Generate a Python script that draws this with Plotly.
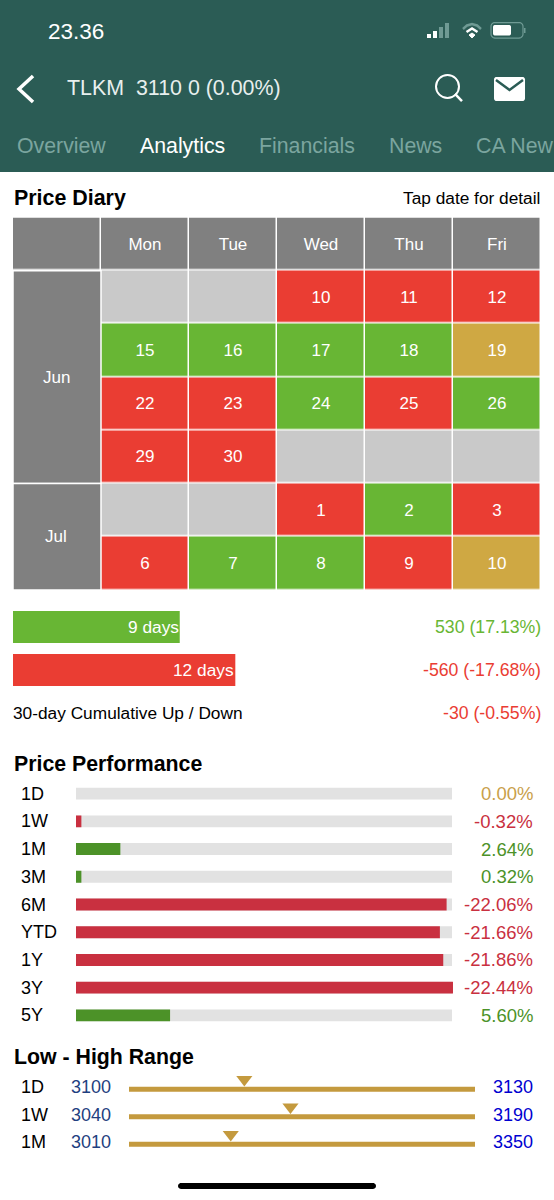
import math
import plotly.graph_objs as go

W = 554
H = 1200
FONT = "Liberation Sans"

# price diary
weekdays = ["Mon", "Tue", "Wed", "Thu", "Fri"]
months = ["Jun", "Jul"]
month_weeks = [4, 2]
days = [
    ["", "", "10", "11", "12"],
    ["15", "16", "17", "18", "19"],
    ["22", "23", "24", "25", "26"],
    ["29", "30", "", "", ""],
    ["", "", "1", "2", "3"],
    ["6", "7", "8", "9", "10"],
]
# 0 header, 1 no data, 2 up, 3 down, 4 flat
status = [
    [1, 1, 3, 3, 3],
    [2, 2, 2, 2, 4],
    [3, 3, 2, 3, 2],
    [3, 3, 1, 1, 1],
    [1, 1, 3, 2, 3],
    [3, 2, 2, 3, 4],
]

updown_days = [9, 12]
updown_text = ["530 (17.13%)", "-560 (-17.68%)", "-30 (-0.55%)"]

# price performance
perf_labels = ["1D", "1W", "1M", "3M", "6M", "YTD", "1Y", "3Y", "5Y"]
perf_values = [0.00, -0.32, 2.64, 0.32, -22.06, -21.66, -21.86, -22.44, 5.60]
perf_track = 22.38

# low - high range
range_labels = ["1D", "1W", "1M"]
range_low = [3100, 3040, 3010]
range_high = [3130, 3190, 3350]
last_price = 3110

BAND = "#2b5c55"
GREY = "#808080"
BLANK = "#c9c9c9"
UP = "#68b634"
DOWN = "#ea3d33"
FLAT = "#cfa843"
P_UP = "#4c9228"
P_DOWN = "#c93040"
P_FLAT = "#c9a04a"
TRACK = "#e2e2e2"
GOLD = "#c49a3e"


def px_x(x):
    return x / W


def px_y(y):
    return 1 - y / H


def dom_x(x0, x1):
    return [x0 / W, x1 / W]


def dom_y(y0, y1):
    return [1 - y1 / H, 1 - y0 / H]


def label(x, y, s, size=18, color="black", anchor="left", bold=False, yref="paper", yshift=0):
    if yref == "paper":
        y = px_y(y)
    if bold:
        s = "<b>" + s + "</b>"
    x = x - 1 if anchor == "left" else x + 1
    return dict(x=px_x(x), y=y, xref="paper", yref=yref, text=s, showarrow=False, yshift=yshift,
                xanchor=anchor, yanchor="middle", borderpad=0, font=dict(size=size, color=color, family=FONT))


def box(x0, y0, x1, y1, fill, line=None, layer="above"):
    return dict(type="rect", xref="paper", yref="paper", x0=px_x(x0), x1=px_x(x1), y0=px_y(y0), y1=px_y(y1),
                fillcolor=fill, line=dict(width=0) if line is None else line, layer=layer)


def path(points, color, width=2, fill=None):
    d = "M " + " L ".join("%.4f,%.4f" % (px_x(a), px_y(b)) for a, b in points)
    if fill:
        d += " Z"
    return dict(type="path", xref="paper", yref="paper", path=d, fillcolor=fill,
                line=dict(color=color, width=width))


def rounded(x0, y0, x1, y1, r, fill=None, color=None, width=0):
    # rounded box as a polygon, arcs do not scale on paper coordinates
    pts = []
    for cx, cy, a0 in [(x1 - r, y0 + r, -90), (x1 - r, y1 - r, 0), (x0 + r, y1 - r, 90), (x0 + r, y0 + r, 180)]:
        for k in range(7):
            a = math.radians(a0 + k * 15)
            pts.append((cx + r * math.cos(a), cy + r * math.sin(a)))
    d = "M " + " L ".join("%.4f,%.4f" % (px_x(a), px_y(b)) for a, b in pts) + " Z"
    return dict(type="path", xref="paper", yref="paper", path=d, fillcolor=fill,
                line=dict(color=color, width=width))


fig = go.Figure()

# calendar
z = [[0] * 6] + [[None] + row for row in status]
text = [[""] + weekdays] + [[""] + row for row in days]
scale = [[0.0, GREY], [0.2, GREY], [0.2, BLANK], [0.4, BLANK], [0.4, UP], [0.6, UP],
         [0.6, DOWN], [0.8, DOWN], [0.8, FLAT], [1.0, FLAT]]
fig.add_trace(go.Heatmap(z=z, x=list(range(6)), y=list(range(7)), text=text, texttemplate="%{text}",
                         textfont=dict(size=17, color="white", family=FONT), colorscale=scale, zmin=0, zmax=5,
                         showscale=False, xgap=1.5, ygap=1.5, hoverinfo="skip", xaxis="x", yaxis="y"))
starts = [0.5 + sum(month_weeks[:i]) for i in range(len(months))]
fig.add_trace(go.Bar(x=[0] * len(months), y=month_weeks, base=starts, width=1, marker_color=GREY,
                     marker_line=dict(color="white", width=1.5), hoverinfo="skip", xaxis="x", yaxis="y"))

# up / down day bars
fig.add_trace(go.Bar(x=updown_days, y=[0, 1], orientation="h", width=0.744, marker_color=[UP, DOWN],
                     marker_line_width=0, hoverinfo="skip", xaxis="x2", yaxis="y2"))

# performance bars
fig.add_trace(go.Bar(x=[perf_track] * len(perf_labels), y=perf_labels, orientation="h", width=0.43,
                     marker_color=TRACK, marker_line_width=0, hoverinfo="skip", xaxis="x3", yaxis="y3"))
perf_colors = [P_UP if v > 0 else P_DOWN if v < 0 else P_FLAT for v in perf_values]
fig.add_trace(go.Bar(x=[abs(v) for v in perf_values], y=perf_labels, orientation="h", width=0.43,
                     marker_color=perf_colors, marker_line_width=0, hoverinfo="skip", xaxis="x3", yaxis="y3"))

# range sliders
fig.add_trace(go.Bar(x=[1] * len(range_labels), y=range_labels, orientation="h", width=0.18,
                     marker_color=GOLD, marker_line_width=0, hoverinfo="skip", xaxis="x4", yaxis="y4"))
pos = [(last_price - lo) / (hi - lo) for lo, hi in zip(range_low, range_high)]
fig.add_trace(go.Scatter(x=pos, y=[i - 0.356 for i in range(len(pos))], mode="markers",
                         marker=dict(symbol="triangle-down", size=14, color=GOLD), hoverinfo="skip",
                         xaxis="x4", yaxis="y5"))

hidden = dict(visible=False, fixedrange=True)
fig.update_layout(
    width=W, height=H, margin=dict(l=0, r=0, t=0, b=0), showlegend=False, barmode="overlay",
    paper_bgcolor="white", plot_bgcolor="white", font=dict(family=FONT),
    xaxis=dict(domain=dom_x(13, 541), range=[-0.5, 5.5], **hidden),
    yaxis=dict(domain=dom_y(217.5, 590), range=[6.5, -0.5], **hidden),
    xaxis2=dict(domain=dom_x(13, 541), range=[0, 28.5], **hidden),
    yaxis2=dict(domain=dom_y(605.5, 691.5), range=[1.5, -0.5], **hidden),
    xaxis3=dict(domain=dom_x(76, 454), range=[0, 22.5], **hidden),
    yaxis3=dict(domain=dom_y(779.8, 1029.2), categoryorder="array", categoryarray=perf_labels,
                autorange="reversed", **hidden),
    xaxis4=dict(domain=dom_x(129, 475), range=[0, 1], **hidden),
    yaxis4=dict(domain=dom_y(1075.5, 1158), categoryorder="array", categoryarray=range_labels,
                autorange="reversed", **hidden),
    yaxis5=dict(domain=dom_y(1075.5, 1158), range=[2.5, -0.5], overlaying="y4", **hidden),
)

annotations = [
    label(48, 31, "23.36", 22.5, "white"),
    label(67, 88, "TLKM&nbsp;&nbsp;3110 0 (0.00%)", 21.4, "#e8efee"),
    label(17, 146, "Overview", 21.3, "#7ba59f"),
    label(140, 146, "Analytics", 21.3, "white"),
    label(259, 146, "Financials", 21.3, "#7ba59f"),
    label(389, 146, "News", 21.3, "#7ba59f"),
    label(476, 146, "CA New", 21.3, "#7ba59f"),
    label(14, 198, "Price Diary", 21.4, bold=True),
    label(540, 198, "Tap date for detail", 17.3, anchor="right"),
    label(13, 713, "30-day Cumulative Up / Down", 17.3),
    label(14, 763.5, "Price Performance", 21.3, bold=True),
    label(14, 1057, "Low - High Range", 21.3, bold=True),
]
for s, n, name in zip(starts, month_weeks, months):
    annotations.append(dict(x=0, y=s + n / 2, xref="x", yref="y", text=name, showarrow=False, xshift=-1,
                            font=dict(size=17, color="white", family=FONT)))
for i, n in enumerate(updown_days):
    annotations.append(dict(x=n, y=i, xref="x2", yref="y2", text="%d days" % n, showarrow=False, xanchor="right",
                            borderpad=0, font=dict(size=17.3, color="white", family=FONT)))
annotations.append(label(541, 627, updown_text[0], 17.7, UP, "right"))
annotations.append(label(541, 670, updown_text[1], 17.7, DOWN, "right"))
annotations.append(label(541, 713, updown_text[2], 17.7, DOWN, "right"))
for name, v, c in zip(perf_labels, perf_values, perf_colors):
    annotations.append(label(21, name, name, 18, yref="y3"))
    annotations.append(label(533, name, "%.2f%%" % v, 18.5, c, "right", yref="y3"))
for i, name in enumerate(range_labels):
    annotations.append(label(21, name, name, 18, yref="y4", yshift=2))
    annotations.append(label(71, name, str(range_low[i]), 18, "#1f3f80", yref="y4", yshift=2))
    annotations.append(label(533, name, str(range_high[i]), 18, "#0000d0", "right", yref="y4", yshift=2))
fig.update_layout(annotations=annotations)

dim = "#6f9a94"
shapes = [
    box(0, 0, W, 172, BAND, layer="below"),
    # signal bars
    box(427, 34, 431, 38, "white"), box(433, 31, 437, 38, "white"),
    box(439, 27, 443, 38, dim), box(445, 23, 449, 38, dim),
    # wifi
    path([(463, 29), (467, 25.5), (472, 24), (477, 25.5), (481, 29)], dim, 2.5),
    path([(466.5, 32), (472, 28.5), (477.5, 32)], "white", 2.5),
    path([(469, 35), (472, 38), (475, 35), (472, 33)], "white", 1, fill="white"),
    # battery
    rounded(491, 22.5, 523, 38, 4, color=dim, width=1.2),
    rounded(493, 25, 511, 35.5, 2, fill="white"),
    box(524, 28, 525.5, 33, dim),
    # back
    path([(33, 76), (19, 89), (33, 102)], "white", 3.5),
    # search
    dict(type="circle", xref="paper", yref="paper", x0=px_x(436), x1=px_x(459), y0=px_y(75), y1=px_y(98),
         line=dict(color="white", width=2)),
    path([(455, 94), (462, 101)], "white", 2.5),
    # mail
    rounded(494, 77, 525, 101, 2.5, fill="white"),
    path([(496, 80), (509.5, 90), (523, 80)], BAND, 2.5),
    # home indicator
    rounded(178, 1183, 376, 1189, 3, fill="black"),
]
fig.update_layout(shapes=shapes)

fig.write_html("out.html", config=dict(displayModeBar=False), post_script="document.body.style.margin='0';")
